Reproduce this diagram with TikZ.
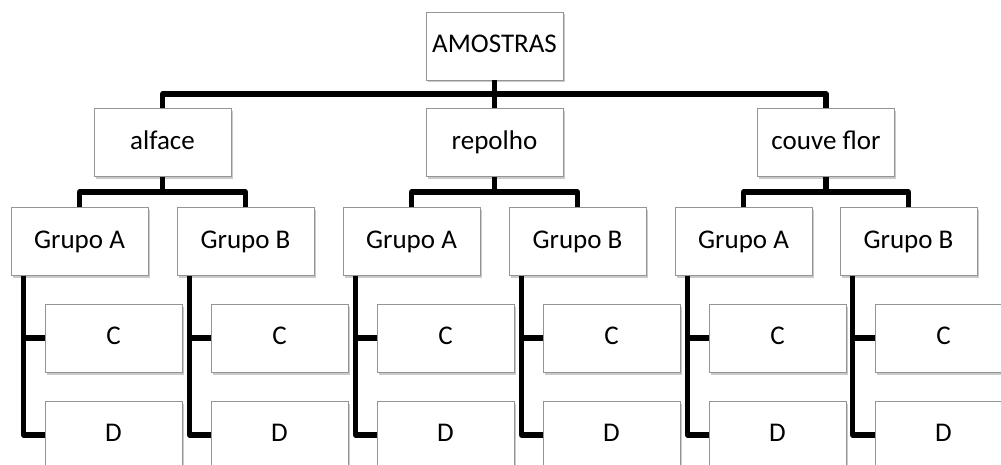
\documentclass[tikz,border=0pt]{standalone}
\usepackage{fontspec}
\setmainfont{Carlito}
\usetikzlibrary{shadows}
\begin{document}
\begin{tikzpicture}[x=1pt,y=-1pt,
  box/.style={draw=black!42, line width=0.9pt, fill=white, minimum width=137pt, minimum height=68pt,
    inner sep=0pt, font=\fontsize{27}{31}\selectfont, text height=13.6pt, text depth=0pt,
    drop shadow={shadow xshift=1.5pt, shadow yshift=-2.5pt, opacity=0.35, fill=black!60}},
  conn/.style={line width=5.2pt, line join=round, black}]
\useasboundingbox (0,0) rectangle (1001,465);
\clip (0,0) rectangle (1001,465);
% level 1
\node[box] (root) at (494.5,46) {AMOSTRAS};
% level 2
\node[box] (alface) at (162.5,142.5) {alface};
\node[box] (repolho) at (494.5,142.5) {repolho};
\node[box] (couve) at (826,142.5) {couve flor};
% groups
\foreach \n/\x/\t in {ga1/79.5/A,gb1/245.5/B,ga2/411.5/A,gb2/577.5/B,ga3/743.5/A,gb3/908.5/B}{
  \node[box] (\n) at (\x,241.5) {Grupo \t};
}
% C and D
\foreach \i/\x in {1/113.5,2/279.5,3/445.5,4/611.5,5/777.5,6/943.5}{
  \node[box] (c\i) at (\x,338) {C};
  \node[box] (d\i) at (\x,435) {D};
}
% connectors
\coordinate (t) at (494.5,94);
\draw[conn] (alface.north) |- (t) -| (couve.north);
\draw[conn] (root.south) -- (repolho.north);
\coordinate (g1) at (162.5,192);
\coordinate (g2) at (494.5,192);
\coordinate (g3) at (826,192);
\draw[conn] (ga1.north) |- (g1) -| (gb1.north);
\draw[conn] (alface.south) -- (g1);
\draw[conn] (ga2.north) |- (g2) -| (gb2.north);
\draw[conn] (repolho.south) -- (g2);
\draw[conn] (ga3.north) |- (g3) -| (gb3.north);
\draw[conn] (couve.south) -- (g3);
\foreach \g/\i in {ga1/1,gb1/2,ga2/3,gb2/4,ga3/5,gb3/6}{
  \draw[conn] ([xshift=13pt]\g.south west) |- (d\i.west);
  \draw[conn] ([xshift=13pt]\g.south west |- c\i.west) -- (c\i.west);
}
\end{tikzpicture}
\end{document}
